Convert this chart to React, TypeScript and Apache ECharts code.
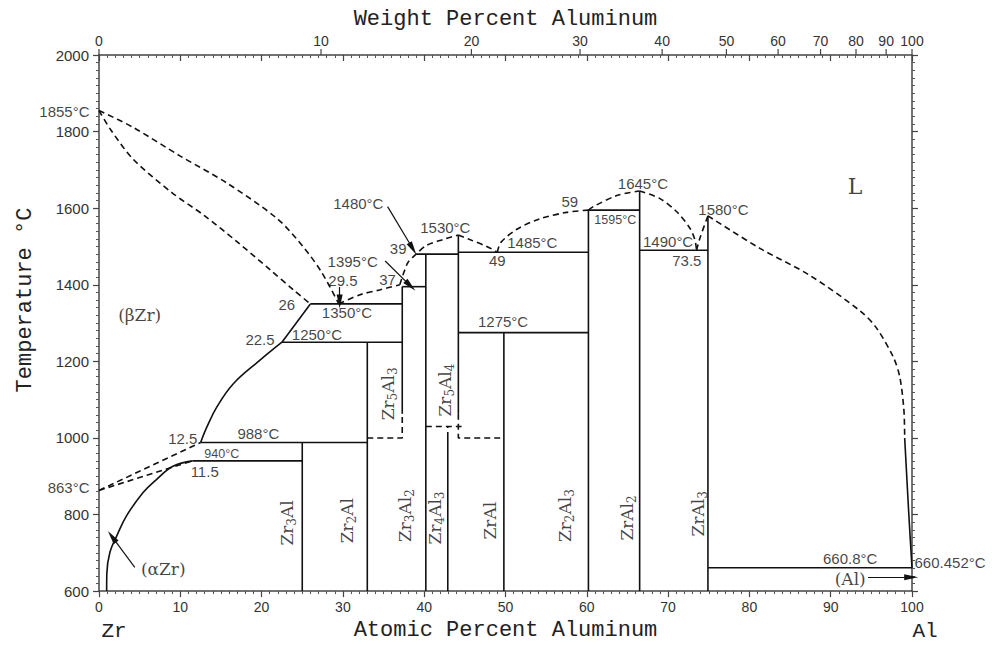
import React, { useEffect, useRef } from 'react';
import * as echarts from 'echarts';

// ---------- axis data ----------
const wtPercentTicks = [0, 10, 20, 30, 40, 50, 60, 70, 80, 90, 100];
const M_AL = 26.9815;
const M_ZR = 91.224;
const wtToAt = (w: number) => {
  if (w >= 100) return 100;
  const a = w / M_AL;
  const z = (100 - w) / M_ZR;
  return (100 * a) / (a + z);
};

// ---------- phase boundaries (at.% Al, °C) ----------
// dashed liquidus / solidus
const zrLiquidus = [[0, 1855], [4.2, 1811], [10, 1736], [15.7, 1666], [21.9, 1573], [25.2, 1497], [27.4, 1432], [29.5, 1350]];
const betaSolidus = [[0, 1855], [1.4, 1806], [4.2, 1728], [9, 1640], [13, 1580], [17, 1512], [21, 1440], [24, 1385], [26, 1350]];
const liq1 = [[29.5, 1350], [32.1, 1374], [34.6, 1387], [37, 1400]];
const liq2 = [[37, 1400], [37.4, 1426], [38, 1458], [39, 1480], [40.3, 1503], [42.3, 1518], [44.2, 1530]];
const liq3 = [[44.2, 1530], [45.6, 1518], [47.7, 1500], [49, 1485]];
const liq4 = [[49, 1485], [49.4, 1510], [51.4, 1545], [54.2, 1572], [57.5, 1589], [60.2, 1595]];
const liq5 = [[60.2, 1595], [60.8, 1604], [63.7, 1633], [66.5, 1645]];
const liq6 = [[66.5, 1645], [69, 1625], [71.1, 1590], [72.7, 1547], [73.3, 1517], [73.5, 1490]];
const liq7 = [[73.5, 1490], [73.9, 1521], [74.9, 1580]];
const liq8 = [[74.9, 1580], [81.3, 1495], [87.4, 1425], [93.6, 1332], [95.6, 1288], [97.7, 1211], [98.5, 1159], [99, 1074], [99.1, 1000]];
const alSolvus = [[99.1, 1000], [99.6, 804], [100, 660.45]];
const alphaDashUpper = [[0, 863], [12.5, 988]];
const alphaDashLower = [[0, 863], [11.5, 940]];
const zr5al3Dash = [[33, 1000], [37.3, 1000], [37.3, 1063]];
const zr4al3Dash = [[42.9, 1000], [42.9, 1030]];
const line1030 = [[40.2, 1030], [44.6, 1030]];
const zr5al4Dash = [[44.2, 1063], [44.2, 1000], [49.8, 1000]];

// solid boundaries
const alphaZr = [[0.94, 600], [0.96, 645], [1.35, 702], [2.2, 745], [3.4, 797], [5.4, 857], [7.1, 892], [9.1, 926], [11.5, 940]];
const betaSolvusUpper = [[26, 1350], [22.5, 1250]];
const betaSolvusLower = [[22.5, 1250], [19.8, 1203], [16.5, 1141], [14.5, 1081], [13.3, 1030], [12.5, 988]];
const solidSegments = [
  [[25, 600], [25, 988]],            // Zr3Al
  [[11.5, 940], [25, 940]],          // 940
  [[12.5, 988], [33, 988]],          // 988
  [[33, 600], [33, 1250]],           // Zr2Al
  [[22.5, 1250], [37.3, 1250]],      // 1250
  [[26, 1350], [37.3, 1350]],        // 1350
  [[37.3, 1063], [37.3, 1395]],      // Zr5Al3
  [[37.3, 1395], [40.2, 1395]],      // 1395
  [[40.2, 600], [40.2, 1480]],       // Zr3Al2
  [[39, 1480], [44.2, 1480]],        // 1480
  [[42.9, 600], [42.9, 1000]],       // Zr4Al3
  [[44.2, 1063], [44.2, 1530]],      // Zr5Al4
  [[44.2, 1485], [60.2, 1485]],      // 1485
  [[44.2, 1275], [60.2, 1275]],      // 1275
  [[49.8, 600], [49.8, 1275]],       // ZrAl
  [[60.2, 600], [60.2, 1595]],       // Zr2Al3
  [[60.2, 1595], [66.5, 1595]],      // 1595
  [[66.5, 600], [66.5, 1645]],       // ZrAl2
  [[66.5, 1490], [74.9, 1490]],      // 1490
  [[74.9, 600], [74.9, 1580]],       // ZrAl3
  [[74.9, 660.8], [100, 660.8]],     // 660.8
];

// ---------- labels (text, at.% Al, °C) ----------
const tempLabels: [string, number, number][] = [
  ['1480°C', 31.9, 1612], ['1395°C', 31.2, 1462], ['1530°C', 42.6, 1550], ['1485°C', 53.3, 1511],
  ['1645°C', 66.9, 1664], ['1275°C', 49.7, 1304], ['1350°C', 30.5, 1327], ['1250°C', 26.8, 1270],
  ['1580°C', 76.8, 1596], ['1490°C', 70.0, 1513], ['988°C', 19.6, 1011], ['660.8°C', 92.4, 685],
];
const compLabels: [string, number, number][] = [
  ['29.5', 30.0, 1410], ['37', 35.5, 1413], ['39', 36.8, 1495], ['49', 49.0, 1464], ['59', 57.9, 1617],
  ['73.5', 72.3, 1464], ['22.5', 19.8, 1257], ['26', 23.1, 1348], ['12.5', 10.3, 998], ['11.5', 13.0, 913],
];
const smallLabels: [string, number, number][] = [['1595°C', 63.5, 1570], ['940°C', 15.1, 957]];
const phaseLabels: [string, number, number][] = [['(βZr)', 5.0, 1322], ['(αZr)', 7.9, 659], ['(Al)', 92.4, 631]];
const liquidLabel: [string, number, number][] = [['L', 93.0, 1656]];
const compoundLabels: [string, number, number][] = [
  ['Zr3Al', 23.1, 778], ['Zr2Al', 30.5, 784], ['Zr3Al2', 37.6, 797], ['Zr4Al3', 41.3, 791], ['ZrAl', 48.1, 784],
  ['Zr2Al3', 57.3, 797], ['ZrAl2', 64.9, 791], ['ZrAl3', 73.7, 802], ['Zr5Al3', 35.5, 1115], ['Zr5Al4', 42.6, 1125],
];
const leftLabels: [string, number, number][] = [['1855°C', 0, 1852], ['863°C', 0, 870]];
const rightLabels: [string, number, number][] = [['660.452°C', 100, 675]];
const arrows = [
  [35.5, 1604, 38.6, 1494],
  [35.2, 1462, 38.3, 1397],
  [29.6, 1394, 29.6, 1356],
  [4.4, 662, 1.6, 742],
  [94.6, 636, 99.9, 636],
];

const INK = '#111';
const SANS = 'Liberation Sans';
const SERIF = 'DejaVu Serif';
const MONO = 'Liberation Mono';

const toRich = (f: string) =>
  f.split(/(\d+)/).filter((s) => s.length > 0).map((s) => (/^\d+$/.test(s) ? `{s|${s}}` : `{n|${s}}`)).join('');

function lineSeries(data: number[][], dashed: boolean, smooth: number | boolean = false) {
  return {
    type: 'line', xAxisIndex: 0, yAxisIndex: 0, data, symbol: 'none', smooth, silent: true, clip: false, z: 3,
    lineStyle: { color: INK, width: 1.6, type: dashed ? [6, 4] : 'solid' },
  };
}

function labelSeries(list: [string, number, number][], label: any, extra: any = {}) {
  return {
    type: 'scatter', xAxisIndex: 0, yAxisIndex: 0, symbolSize: 1, silent: true, clip: false, z: 5,
    itemStyle: { color: 'rgba(0,0,0,0)' },
    data: list.map(([t, x, y]) => ({ name: t, value: [x, y] })),
    label: { show: true, position: 'inside', color: INK, formatter: (p: any) => p.name, ...label },
    ...extra,
  };
}

const axisLineStyle = { color: '#444', width: 1.5 };
const tickStyle = { color: '#444', width: 1.2 };
const minorStyle = { color: '#555', width: 1 };

export default function App() {
  const ref = useRef<HTMLDivElement>(null);
  useEffect(() => {
    if (!ref.current) return;
    const chart = echarts.init(ref.current, null, { renderer: 'svg' });
    const series: any[] = [];
    [zrLiquidus, betaSolidus, liq1, liq2, liq3, liq4, liq5, liq6, liq7, liq8].forEach((d) => series.push(lineSeries(d, true, 0.3)));
    [alphaDashUpper, alphaDashLower, zr5al3Dash, zr4al3Dash, line1030, zr5al4Dash].forEach((d) => series.push(lineSeries(d, true)));
    series.push(lineSeries(alSolvus, false, 0.3));
    series.push(lineSeries(alphaZr, false, 0.4));
    series.push(lineSeries(betaSolvusUpper, false));
    series.push(lineSeries(betaSolvusLower, false, 0.4));
    solidSegments.forEach((d) => series.push(lineSeries(d, false)));

    series.push(labelSeries(tempLabels, { fontFamily: SANS, fontSize: 15 }, {
      markLine: {
        silent: true, symbol: ['none', 'triangle'], symbolSize: [0, 12], animation: false,
        label: { show: false },
        lineStyle: { color: INK, width: 1.2, type: 'solid' },
        data: arrows.map((a) => [
          { coord: [a[0], a[1]], symbol: 'none' },
          { coord: [a[2], a[3]], symbol: 'triangle', symbolSize: [6, 14] },
        ]),
      },
    }));
    series.push(labelSeries(compLabels, { fontFamily: SANS, fontSize: 15 }));
    series.push(labelSeries(smallLabels, { fontFamily: SANS, fontSize: 12.5 }));
    series.push(labelSeries(phaseLabels, { fontFamily: SERIF, fontSize: 17 }));
    series.push(labelSeries(liquidLabel, { fontFamily: SERIF, fontSize: 22 }));
    series.push(labelSeries(leftLabels, { fontFamily: SANS, fontSize: 15, position: 'left', distance: 9 }));
    series.push(labelSeries(rightLabels, { fontFamily: SANS, fontSize: 15, position: 'right', distance: 2 }));
    series.push({
      type: 'scatter', xAxisIndex: 0, yAxisIndex: 0, symbolSize: 1, silent: true, clip: false, z: 5,
      itemStyle: { color: 'rgba(0,0,0,0)' },
      data: compoundLabels.map(([t, x, y]) => ({ name: toRich(t), value: [x, y] })),
      label: {
        show: true, position: 'inside', rotate: 90, formatter: (p: any) => p.name,
        rich: {
          n: { fontFamily: SERIF, fontSize: 17, color: INK, lineHeight: 22 },
          s: { fontFamily: SERIF, fontSize: 12, color: INK, lineHeight: 12, verticalAlign: 'bottom' },
        },
      },
    });
    series.push({
      type: 'custom', xAxisIndex: 1, yAxisIndex: 0, clip: false, silent: true, z: 6,
      data: wtPercentTicks.map((w) => [wtToAt(w), w]),
      renderItem: (_params: any, api: any) => {
        const p = api.coord([api.value(0), 2000]);
        return {
          type: 'group',
          children: [
            { type: 'line', shape: { x1: p[0], y1: p[1], x2: p[0], y2: p[1] - 6 }, style: { stroke: '#444', lineWidth: 1.2 } },
            {
              type: 'text', x: p[0], y: p[1] - 7,
              style: { text: String(api.value(1)), fill: '#333', fontFamily: SANS, fontSize: 14, align: 'center', verticalAlign: 'bottom' },
            },
          ],
        };
      },
    });

    const baseX = {
      type: 'value', min: 0, max: 100, interval: 10,
      splitLine: { show: false }, minorSplitLine: { show: false },
      axisLine: { show: true, onZero: false, lineStyle: axisLineStyle },
    };
    const baseY = {
      type: 'value', min: 600, max: 2000, interval: 200,
      splitLine: { show: false }, minorSplitLine: { show: false },
      axisLine: { show: true, onZero: false, lineStyle: axisLineStyle },
      axisTick: { show: true, length: 6, lineStyle: tickStyle },
      minorTick: { show: true, splitNumber: 10, length: 3, lineStyle: minorStyle },
    };
    chart.setOption({
      animation: false,
      backgroundColor: '#fff',
      grid: { left: 99, right: 84, top: 55, bottom: 50 },
      xAxis: [
        {
          ...baseX, position: 'bottom',
          name: 'Atomic Percent Aluminum', nameLocation: 'middle', nameGap: 27,
          nameTextStyle: { fontFamily: MONO, fontSize: 22, color: '#222' },
          axisTick: { show: true, length: 6, lineStyle: tickStyle },
          minorTick: { show: true, splitNumber: 10, length: 3, lineStyle: minorStyle },
          axisLabel: { fontFamily: SANS, fontSize: 14, color: '#333', margin: 9, formatter: (v: number) => String(v) },
        },
        {
          ...baseX, position: 'top',
          name: 'Weight Percent Aluminum', nameLocation: 'middle', nameGap: 25,
          nameTextStyle: { fontFamily: MONO, fontSize: 22, color: '#222' },
          axisTick: { show: true, inside: true, length: 6, lineStyle: tickStyle },
          minorTick: { show: true, splitNumber: 10, length: 3, lineStyle: minorStyle },
          axisLabel: { show: false },
        },
      ],
      yAxis: [
        { ...baseY, position: 'left', axisLabel: { fontFamily: SANS, fontSize: 15, color: '#333', margin: 10, formatter: (v: number) => String(v) } },
        { ...baseY, position: 'right', axisLabel: { show: false } },
      ],
      graphic: [
        { type: 'text', x: 25, y: 300, rotation: Math.PI / 2, style: { text: 'Temperature °C', fontFamily: MONO, fontSize: 22, fill: '#222', align: 'center', verticalAlign: 'middle' } },
        { type: 'text', x: 114, y: 631, style: { text: 'Zr', fontFamily: MONO, fontSize: 21, fill: '#222', align: 'center', verticalAlign: 'middle' } },
        { type: 'text', x: 925, y: 631, style: { text: 'Al', fontFamily: MONO, fontSize: 21, fill: '#222', align: 'center', verticalAlign: 'middle' } },
      ],
      series,
    });
    return () => chart.dispose();
  }, []);
  return <div ref={ref} style={{ position: 'fixed', left: 0, top: 0, width: 996, height: 646 }} />;
}
